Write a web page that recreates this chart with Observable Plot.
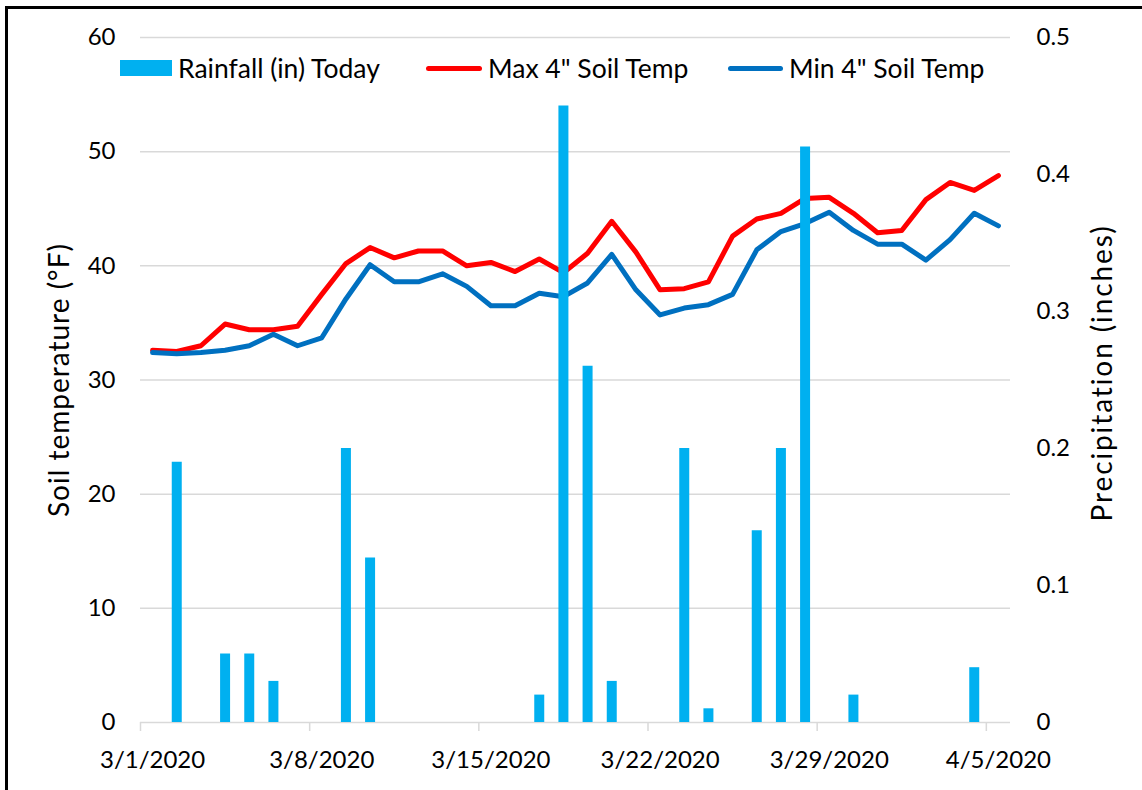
<!DOCTYPE html>
<html>
<head>
<meta charset="utf-8">
<script src="https://cdn.jsdelivr.net/npm/d3@7"></script>
<script src="https://cdn.jsdelivr.net/npm/@observablehq/plot@0.6"></script>
<style>
  body { margin: 0; background: #fff; font-family: Lato, sans-serif; }
  #wrap { position: relative; width: 1142px; height: 790px; overflow: hidden; background: #fff; }
  #chart { position: absolute; left: 0; top: 0; }
  #frame { position: absolute; left: 5px; top: 6px; width: 1300px; height: 1000px;
           border-left: 3px solid #000; border-top: 3px solid #000; pointer-events: none; }
  .leg { position: absolute; top: 53px; height: 30px; display: flex; align-items: center;
         font-size: 26.5px; color: #000; white-space: nowrap; }
  .sw { display: inline-block; margin-right: 6px; }
</style>
</head>
<body>
<div id="wrap">
  <div id="chart"></div>
  <div class="leg" style="left:120px"><span class="sw" style="width:52px;height:16px;background:#00B0F0"></span><span>Rainfall (in) Today</span></div>
  <div class="leg" style="left:426px"><span class="sw" style="width:56px;height:5px;border-radius:3px;background:#FF0000"></span><span>Max 4" Soil Temp</span></div>
  <div class="leg" style="left:728px"><span class="sw" style="width:55px;height:5px;border-radius:3px;background:#0070C0"></span><span>Min 4" Soil Temp</span></div>
  <div id="frame"></div>
</div>
<script>
// ---- data ----
const startDate = "2020-03-01";
const rainIn = [0, 0.19, 0, 0.05, 0.05, 0.03, 0, 0, 0.20, 0.12,
                0, 0, 0, 0, 0, 0, 0.02, 0.45, 0.26, 0.03,
                0, 0, 0.20, 0.01, 0, 0.14, 0.20, 0.42, 0, 0.02,
                0, 0, 0, 0, 0.04, 0];
const maxTemp = [32.6, 32.5, 33.0, 34.9, 34.4, 34.4, 34.7, 37.5, 40.2, 41.6,
                 40.7, 41.3, 41.3, 40.0, 40.3, 39.5, 40.6, 39.4, 41.1, 43.9,
                 41.2, 37.9, 38.0, 38.6, 42.6, 44.1, 44.6, 45.9, 46.0, 44.6,
                 42.9, 43.1, 45.8, 47.3, 46.6, 47.9];
const minTemp = [32.4, 32.3, 32.4, 32.6, 33.0, 34.0, 33.0, 33.7, 37.1, 40.1,
                 38.6, 38.6, 39.3, 38.2, 36.5, 36.5, 37.6, 37.3, 38.5, 41.0,
                 37.9, 35.7, 36.3, 36.6, 37.5, 41.4, 43.0, 43.7, 44.7, 43.1,
                 41.9, 41.9, 40.5, 42.3, 44.6, 43.5];
const tickLabels = ["3/1/2020", "3/8/2020", "3/15/2020", "3/22/2020", "3/29/2020", "4/5/2020"];
const tempTicks = [0, 10, 20, 30, 40, 50, 60];
const rainTicks = [0, 0.1, 0.2, 0.3, 0.4, 0.5];

// ---- derived ----
const day = i => d3.utcDay.offset(new Date(startDate + "T00:00:00Z"), i);
const data = rainIn.map((r, i) => ({date: day(i), rain: r, max: maxTemp[i], min: minTemp[i]}));
const k = 60 / 0.5; // precipitation axis: 0.5 in <-> 60 °F
const labelTicks = tickLabels.map((_, j) => day(7 * j));
const labelMap = new Map(labelTicks.map((d, j) => [+d, tickLabels[j]]));
const boundaryTicks = labelTicks.map(d => d3.utcHour.offset(d, -12));

const chart = Plot.plot({
  width: 1142,
  height: 790,
  marginLeft: 140,
  marginRight: 132,
  marginTop: 37,
  marginBottom: 68,
  style: {fontFamily: "Lato, sans-serif", fontSize: "24px", color: "#000", background: "transparent"},
  x: {type: "utc", domain: [d3.utcHour.offset(day(0), -12), d3.utcHour.offset(day(rainIn.length - 1), 12)]},
  y: {domain: [0, 60]},
  marks: [
    Plot.gridY(tempTicks.filter(t => t > 0), {stroke: "#D9D9D9", strokeOpacity: 1, strokeWidth: 1.5}),
    Plot.ruleY([0], {stroke: "#D9D9D9", strokeWidth: 1.5}),
    Plot.axisX(boundaryTicks, {tickSize: 9, stroke: "#D9D9D9", strokeWidth: 1.5, tickFormat: () => "", label: null}),
    Plot.axisX(labelTicks, {tickSize: 0, tickPadding: 28, tickFormat: d => labelMap.get(+d), label: null}),
    Plot.axisY(tempTicks, {anchor: "left", tickSize: 0, tickPadding: 25, label: null}),
    Plot.axisY([], {anchor: "left", label: "Soil temperature (°F)", labelAnchor: "center", labelArrow: "none", labelOffset: 91, fontSize: 28}),
    Plot.axisY(rainTicks.map(r => r * k), {anchor: "right", tickSize: 0, tickPadding: 26,
      tickFormat: d => d === 0 ? "0" : (d / k).toFixed(1), label: null}),
    Plot.axisY([], {anchor: "right", label: "Precipitation (inches)", labelAnchor: "center", labelArrow: "none", labelOffset: 101, fontSize: 28}),
    Plot.line(data, {x: "date", y: "max", stroke: "#FF0000", strokeWidth: 5, strokeLinejoin: "round", strokeLinecap: "round"}),
    Plot.line(data, {x: "date", y: "min", stroke: "#0070C0", strokeWidth: 5, strokeLinejoin: "round", strokeLinecap: "round"}),
    Plot.ruleX(data.filter(d => d.rain > 0), {x: "date", y1: 0, y2: d => d.rain * k, stroke: "#00B0F0", strokeWidth: 10})
  ]
});
const titles = chart.querySelectorAll('g[aria-label="y-axis label"]');
if (titles[0]) titles[0].style.letterSpacing = "1px";
if (titles[1]) {
  titles[1].style.letterSpacing = "1.9px";
  const orig = titles[1].getAttribute("transform") || "";
  titles[1].setAttribute("transform", (orig + " translate(0,-7)").trim());
}
document.getElementById("chart").appendChild(chart);
</script>
</body>
</html>
